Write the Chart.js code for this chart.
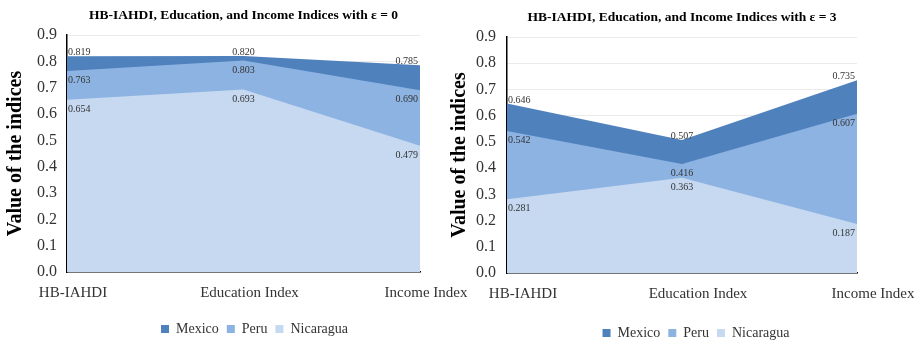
<!DOCTYPE html>
<html>
<head>
<meta charset="utf-8">
<script src="https://cdn.jsdelivr.net/npm/chart.js@4"></script>
<style>
  html, body { margin: 0; padding: 0; background: #fff; }
  body { width: 916px; height: 342px; position: relative; overflow: hidden; }
  .panel { position: absolute; top: 0; height: 342px; }
  #panelLeft { left: 0; width: 480px; }
  #panelRight { left: 446px; width: 470px; }
</style>
</head>
<body>
<div class="panel" id="panelLeft"><canvas id="chartEps0" width="480" height="342"></canvas></div>
<div class="panel" id="panelRight"><canvas id="chartEps3" width="470" height="342"></canvas></div>
<script>
// Categories on the horizontal axis
const categories = ['HB-IAHDI', 'Education Index', 'Income Index'];
const seriesNames = ['Mexico', 'Peru', 'Nicaragua'];

// Index values with inequality aversion ε = 0
const mexicoEps0 = [0.819, 0.820, 0.785];
const peruEps0 = [0.763, 0.803, 0.690];
const nicaraguaEps0 = [0.654, 0.693, 0.479];

// Index values with inequality aversion ε = 3
const mexicoEps3 = [0.646, 0.507, 0.735];
const peruEps3 = [0.542, 0.416, 0.607];
const nicaraguaEps3 = [0.281, 0.363, 0.187];

// Value axis range and step
const yMin = 0;
const yMax = 0.9;
const yStep = 0.1;

const SERIF = '"Liberation Serif", "Times New Roman", serif';
const seriesColors = ['#4F81BD', '#8DB3E2', '#C6D9F1'];

// Writes the value of every point next to it
const valueLabels = {
  id: 'valueLabels',
  afterDatasetsDraw(chart) {
    const ctx = chart.ctx;
    ctx.save();
    ctx.font = '10px ' + SERIF;
    ctx.fillStyle = '#333';
    ctx.textBaseline = 'alphabetic';
    chart.data.datasets.forEach((ds, di) => {
      const meta = chart.getDatasetMeta(di);
      if (meta.hidden) return;
      const last = meta.data.length - 1;
      meta.data.forEach((pt, i) => {
        ctx.textAlign = i === 0 ? 'left' : (i === last ? 'right' : 'center');
        const x = pt.x + (i === 0 ? 1 : (i === last ? -2 : 0));
        const y = ds.labelAbove ? pt.y - 1 : pt.y + 12;
        ctx.fillText(ds.data[i].toFixed(3), x, y);
      });
    });
    ctx.restore();
  }
};

// Nudges the legend row sideways after layout
const legendShift = {
  id: 'legendShift',
  afterLayout(chart, args, opts) {
    const lg = chart.legend;
    if (lg && opts.dx) {
      lg.left += opts.dx;
      lg.right += opts.dx;
    }
  }
};

function buildChart(canvasId, titleText, values, geo) {
  const datasets = values.map((vals, k) => ({
    label: seriesNames[k],
    data: vals,
    backgroundColor: seriesColors[k],
    borderColor: 'rgba(0,0,0,0)',
    borderWidth: 0,
    pointRadius: 0,
    pointHoverRadius: 0,
    tension: 0,
    fill: 'origin',
    order: 3 - k,
    labelAbove: k === 0
  }));

  return new Chart(document.getElementById(canvasId), {
    type: 'line',
    data: { labels: categories, datasets },
    options: {
      responsive: false,
      animation: false,
      events: [],
      layout: { padding: { left: 0, right: geo.padRight, top: 0, bottom: geo.padBottom } },
      plugins: {
        tooltip: { enabled: false },
        legendShift: { dx: geo.legendDx },
        title: {
          display: true,
          text: titleText,
          fullSize: false,
          color: '#000',
          font: { family: SERIF, size: 13.5, weight: 'bold' },
          padding: { top: geo.titleTop, bottom: geo.titleBottom }
        },
        legend: {
          position: 'bottom',
          fullSize: false,
          labels: {
            boxWidth: 8,
            boxHeight: 8,
            padding: 8,
            color: '#333',
            font: { family: SERIF, size: 14 },
            sort: (a, b) => a.datasetIndex - b.datasetIndex
          }
        }
      },
      scales: {
        x: {
          type: 'category',
          offset: false,
          grid: { display: false, drawTicks: false },
          border: { display: true, color: '#000', width: 1.5 },
          ticks: {
            padding: 12,
            labelOffset: geo.labelOffset,
            autoSkip: false,
            maxRotation: 0,
            color: '#333',
            font: { family: SERIF, size: 15 }
          },
          afterFit: s => { s.height = geo.xHeight; }
        },
        y: {
          min: yMin,
          max: yMax,
          grid: { color: '#ebebeb', drawTicks: false },
          border: { display: true, color: '#000', width: 1.5 },
          ticks: {
            stepSize: yStep,
            padding: geo.tickPad,
            color: '#333',
            font: { family: SERIF, size: 16 },
            callback: v => Number(v).toFixed(1)
          },
          title: {
            display: true,
            text: 'Value of the indices',
            color: '#000',
            font: { family: SERIF, size: 20, weight: 'bold' },
            padding: { top: geo.yTitleTop, bottom: 0 }
          },
          afterFit: s => { s.width = geo.yWidth; }
        }
      }
    },
    plugins: [valueLabels, legendShift]
  });
}

buildChart('chartEps0', 'HB-IAHDI, Education, and Income Indices with ε = 0',
  [mexicoEps0, peruEps0, nicaraguaEps0],
  { padRight: 60, padBottom: -4, titleTop: 7, titleBottom: 11.8, xHeight: 42, yWidth: 67,
    tickPad: 10, yTitleTop: 4, labelOffset: 6, legendDx: 11 });

buildChart('chartEps3', 'HB-IAHDI, Education, and Income Indices with ε = 3',
  [mexicoEps3, peruEps3, nicaraguaEps3],
  { padRight: 59, padBottom: -8, titleTop: 9, titleBottom: 11.8, xHeight: 45, yWidth: 61,
    tickPad: 11, yTitleTop: 2, labelOffset: 16, legendDx: 14 });
</script>
</body>
</html>
